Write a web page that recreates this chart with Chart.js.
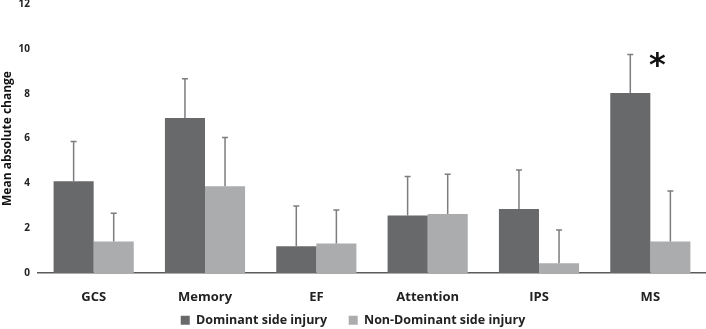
<!DOCTYPE html>
<html>
<head>
<meta charset="utf-8">
<script src="https://cdn.jsdelivr.net/npm/chart.js@4"></script>
<style>
  html, body { margin: 0; padding: 0; background: #fff; }
  #wrap { width: 706px; height: 329px; }
</style>
</head>
<body>
<div id="wrap"><canvas id="grafico"></canvas></div>
<script>
// dados
var categorias = ['GCS', 'Memory', 'EF', 'Attention', 'IPS', 'MS'];
var dominante = [4.09, 6.91, 1.19, 2.56, 2.85, 8.03];
var dominanteErro = [1.78, 1.76, 1.80, 1.74, 1.74, 1.72];
var naoDominante = [1.40, 3.87, 1.32, 2.63, 0.43, 1.40];
var naoDominanteErro = [1.26, 2.18, 1.49, 1.77, 1.49, 2.26];
var ticksY = [0, 2, 4, 6, 8, 10, 12];

var corEscura = '#68696b';
var corClara = '#abacae';

// barras de erro (só para cima) e o asterisco
var errosPlugin = {
    id: 'erros',
    afterDatasetsDraw: function (chart) {
        var ctx = chart.ctx;
        var y = chart.scales.y;
        var erros = [dominanteErro, naoDominanteErro];
        ctx.save();
        ctx.strokeStyle = '#7d7d7f';
        ctx.lineWidth = 1.5;
        chart.data.datasets.forEach(function (ds, i) {
            var meta = chart.getDatasetMeta(i);
            meta.data.forEach(function (bar, j) {
                var topo = y.getPixelForValue(ds.data[j] + erros[i][j]);
                ctx.beginPath();
                ctx.moveTo(bar.x, bar.y);
                ctx.lineTo(bar.x, topo);
                ctx.moveTo(bar.x - 3, topo);
                ctx.lineTo(bar.x + 3, topo);
                ctx.stroke();
            });
        });
        // asterisco em MS
        var x = chart.scales.x.getPixelForValue(5);
        ctx.fillStyle = '#111';
        ctx.font = 'bold 32px "DejaVu Sans"';
        ctx.textAlign = 'center';
        ctx.textBaseline = 'middle';
        ctx.fillText('*', x + 7, y.getPixelForValue(9.2));
        ctx.restore();
    }
};

var ctx = document.getElementById('grafico').getContext('2d');

var meuGrafico = new Chart(ctx, {
    type: 'bar',
    data: {
        labels: categorias,
        datasets: [
            {
                label: 'Dominant side injury',
                data: dominante,
                backgroundColor: corEscura,
                categoryPercentage: 0.72,
                barPercentage: 1
            },
            {
                label: 'Non-Dominant side injury',
                data: naoDominante,
                backgroundColor: corClara,
                categoryPercentage: 0.72,
                barPercentage: 1
            }
        ]
    },
    options: {
        responsive: true,
        maintainAspectRatio: false,
        animation: false,
        layout: { padding: { top: 4, right: 0, left: 0, bottom: -7.5 } },
        plugins: {
            legend: {
                position: 'bottom',
                labels: {
                    boxWidth: 9,
                    boxHeight: 9,
                    padding: 7,
                    color: '#222',
                    font: { family: '"Open Sans"', size: 12.5, weight: 'bold' },
                    // espaço extra entre os dois itens da legenda
                    generateLabels: function (chart) {
                        var itens = Chart.defaults.plugins.legend.labels.generateLabels(chart);
                        itens[0].text = itens[0].text + '\u2003\u2009';
                        return itens;
                    }
                }
            },
            tooltip: { enabled: false }
        },
        scales: {
            x: {
                grid: { display: false, drawTicks: false },
                border: { color: '#5a5a5a', width: 1.5 },
                afterFit: function (scale) { scale.height = 34; },
                ticks: {
                    padding: 16.5,
                    color: '#222',
                    font: { family: '"Open Sans"', size: 13, weight: 'bold' }
                }
            },
            y: {
                min: 0,
                max: 12,
                afterBuildTicks: function (scale) {
                    scale.ticks = ticksY.map(function (v) { return { value: v }; });
                },
                afterFit: function (scale) {
                    scale.width = 38;
                    scale.paddingTop = 0;
                    scale.paddingBottom = 0;
                },
                grid: { display: false, drawTicks: false },
                border: { display: false },
                ticks: {
                    padding: 8,
                    color: '#222',
                    font: { family: '"Open Sans"', size: 10, weight: 'bold' }
                },
                title: {
                    display: true,
                    text: 'Mean absolute change',
                    color: '#111',
                    padding: 0,
                    font: { family: '"Open Sans"', size: 12, weight: 'bold' }
                }
            }
        }
    },
    plugins: [errosPlugin]
});
</script>
</body>
</html>
